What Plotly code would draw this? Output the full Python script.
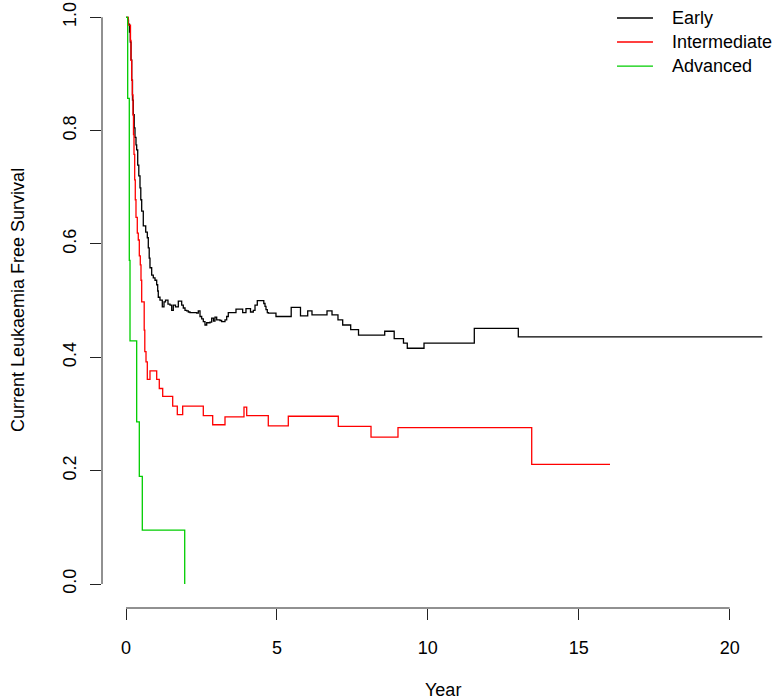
import plotly.graph_objects as go

# ---- data (years, survival probability) ----
early_t = [0, 0.056, 0.083, 0.116, 0.142, 0.166, 0.189, 0.215, 0.242, 0.272, 0.298, 0.331, 0.354,
           0.388, 0.424, 0.464, 0.490, 0.520, 0.573, 0.653, 0.706, 0.739, 0.769, 0.795, 0.851,
           0.904, 0.961, 1.017, 1.050, 1.070, 1.126, 1.203, 1.259, 1.309, 1.391, 1.458, 1.514,
           1.567, 1.640, 1.733, 1.845, 1.898, 1.955, 2.011, 2.064, 2.120, 2.342, 2.395, 2.452,
           2.508, 2.561, 2.617, 2.674, 2.783, 2.839, 2.899, 2.948, 3.005, 3.114, 3.170, 3.280,
           3.336, 3.389, 3.644, 3.866, 3.975, 4.125, 4.217, 4.274, 4.350, 4.565, 4.605, 4.638,
           4.681, 4.714, 4.969, 5.473, 5.781, 6.020, 6.162, 6.659, 6.825, 7.023, 7.179, 7.444,
           7.703, 8.571, 8.885, 9.193, 9.319, 9.873, 11.539, 12.997, 21.08]
early_s = [1.0, 0.995, 0.988, 0.974, 0.956, 0.925, 0.889, 0.854, 0.828, 0.805, 0.788, 0.775, 0.766,
           0.739, 0.720, 0.699, 0.678, 0.658, 0.632, 0.621, 0.611, 0.593, 0.575, 0.558, 0.545,
           0.540, 0.536, 0.528, 0.517, 0.506, 0.501, 0.489, 0.498, 0.501, 0.494, 0.492, 0.483,
           0.492, 0.489, 0.499, 0.492, 0.487, 0.483, 0.482, 0.480, 0.479, 0.478, 0.482, 0.472,
           0.468, 0.463, 0.457, 0.461, 0.462, 0.469, 0.464, 0.471, 0.466, 0.465, 0.463, 0.466,
           0.472, 0.479, 0.485, 0.479, 0.486, 0.480, 0.483, 0.492, 0.500, 0.495, 0.490, 0.484,
           0.479, 0.478, 0.472, 0.488, 0.473, 0.482, 0.475, 0.482, 0.475, 0.466, 0.457, 0.449,
           0.439, 0.446, 0.433, 0.425, 0.416, 0.425, 0.451, 0.436, 0.436]

inter_t = [0, 0.076, 0.149, 0.166, 0.189, 0.209, 0.232, 0.248, 0.265, 0.288, 0.308, 0.331, 0.374,
           0.407, 0.441, 0.474, 0.497, 0.520, 0.603, 0.623, 0.663, 0.706, 0.795, 1.017, 1.103,
           1.216, 1.547, 1.700, 1.878, 2.561, 2.872, 3.280, 3.909, 3.999, 4.714, 5.377, 7.033,
           8.117, 9.011, 13.441, 16.035]
inter_s = [1.0, 0.986, 0.959, 0.924, 0.889, 0.863, 0.828, 0.793, 0.758, 0.713, 0.678, 0.647, 0.619,
           0.607, 0.579, 0.563, 0.536, 0.498, 0.448, 0.410, 0.392, 0.361, 0.376, 0.361, 0.345,
           0.331, 0.314, 0.299, 0.314, 0.297, 0.281, 0.295, 0.312, 0.297, 0.279, 0.296, 0.278,
           0.259, 0.276, 0.211, 0.211]

adv_t = [0, 0.056, 0.109, 0.133, 0.354, 0.441, 0.540, 1.945]
adv_s = [1.0, 0.857, 0.571, 0.429, 0.286, 0.190, 0.095, 0.0]

group_names = ["Early", "Intermediate", "Advanced"]
group_colors = ["#000000", "#ff0000", "#00cd00"]

x_ticks = [0, 5, 10, 15, 20]
y_ticks = [0.0, 0.2, 0.4, 0.6, 0.8, 1.0]
y_tick_text = ["0.0", "0.2", "0.4", "0.6", "0.8", "1.0"]

FONT = "Liberation Sans, Arial, sans-serif"
FS = 18

fig = go.Figure()
for name, col, t, s in zip(group_names, group_colors,
                           [early_t, inter_t, adv_t], [early_s, inter_s, adv_s]):
    fig.add_trace(go.Scatter(x=t, y=s, mode="lines", name=name, showlegend=False,
                             line=dict(color=col, width=1.3, shape="hv")))

fig.update_layout(
    width=774, height=700,
    margin=dict(l=102, r=0, t=0, b=92, pad=0),
    paper_bgcolor="white", plot_bgcolor="white",
    font=dict(family=FONT, size=FS, color="#000"),
    showlegend=False,
)
fig.update_xaxes(range=[-0.795, 21.468], showgrid=False, zeroline=False, showline=False,
                 tickmode="array", tickvals=x_ticks, ticks="outside", ticklen=11,
                 tickcolor="#222", tickwidth=1, ticklabelstandoff=12,
                 ticklabeloverflow="allow")
fig.update_yaxes(range=[-0.04235, 1.0305], showgrid=False, zeroline=False, showline=False,
                 tickmode="array", tickvals=y_ticks, ticktext=y_tick_text, ticks="outside",
                 ticklen=11, tickcolor="#222", tickwidth=1, tickangle=-90,
                 ticklabelstandoff=7, ticklabeloverflow="allow")

# R-style axis lines spanning first to last tick
fig.add_shape(type="line", xref="x", yref="paper", x0=x_ticks[0], x1=x_ticks[-1], y0=0, y1=0,
              line=dict(color="#222", width=1))
fig.add_shape(type="line", xref="paper", yref="y", x0=0, x1=0, y0=y_ticks[0], y1=y_ticks[-1],
              line=dict(color="#222", width=1))

# legend (R style, no box)
legend_rows_y = [0.9704, 0.9309, 0.8914]
for name, col, ly in zip(group_names, group_colors, legend_rows_y):
    fig.add_shape(type="line", xref="paper", yref="paper", x0=0.7664, x1=0.8199, y0=ly, y1=ly,
                  line=dict(color=col, width=1.3))
    fig.add_annotation(text=name, xref="paper", yref="paper", x=0.8445, y=ly,
                       xanchor="left", yanchor="middle", showarrow=False,
                       font=dict(size=FS, color="#000"))

fig.add_annotation(text="Year", xref="paper", yref="paper", x=0.5074, y=-0.1349,
                   xanchor="center", yanchor="middle", showarrow=False, font=dict(size=FS))
fig.add_annotation(text="Current Leukaemia Free Survival", xref="paper", yref="paper",
                   x=-0.125, y=0.5066, xanchor="center", yanchor="middle",
                   textangle=-90, showarrow=False, font=dict(size=FS))

fig.write_html("out.html", config={"displayModeBar": False},
               post_script="document.body.style.margin='0';document.body.style.overflow='hidden';")
